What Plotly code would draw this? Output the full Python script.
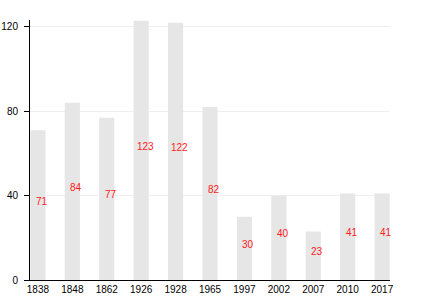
import plotly.graph_objects as go

years = ["1838", "1848", "1862", "1926", "1928", "1965", "1997", "2002", "2007", "2010", "2017"]
values = [71, 84, 77, 123, 122, 82, 30, 40, 23, 41, 41]
y_ticks = [0, 40, 80, 120]

fig = go.Figure()
fig.add_trace(go.Bar(
    x=years, y=values, width=0.44,
    marker=dict(color="#e6e6e6", line=dict(width=0)),
    hoverinfo="skip",
))
for i, v in enumerate(values):
    fig.add_annotation(
        x=i, y=v / 2, text=str(v), showarrow=False,
        xref="x", yref="y",
        xshift=4, yshift=4,
        font=dict(color="#ff1a1a", size=10, family="Liberation Sans, Arial"),
    )

fig.update_layout(
    width=430, height=300,
    margin=dict(l=30, r=40, t=20, b=20),
    plot_bgcolor="white", paper_bgcolor="white",
    showlegend=False,
    font=dict(family="Liberation Sans, Arial", size=10, color="black"),
    xaxis=dict(
        type="category", range=[-0.23, 10.23], automargin=False,
        showline=True, linecolor="black", linewidth=1,
        ticks="", showgrid=False, tickfont=dict(size=10),
        fixedrange=True,
    ),
    yaxis=dict(
        range=[0, 123.3], tickvals=y_ticks, automargin=False,
        showline=True, linecolor="black", linewidth=1,
        ticks="outside", ticklen=5, tickcolor="black",
        ticklabelstandoff=4,
        showgrid=True, gridcolor="#eeeeee", gridwidth=1,
        zeroline=False, tickfont=dict(size=10),
    ),
)

fig.write_html("out.html")
